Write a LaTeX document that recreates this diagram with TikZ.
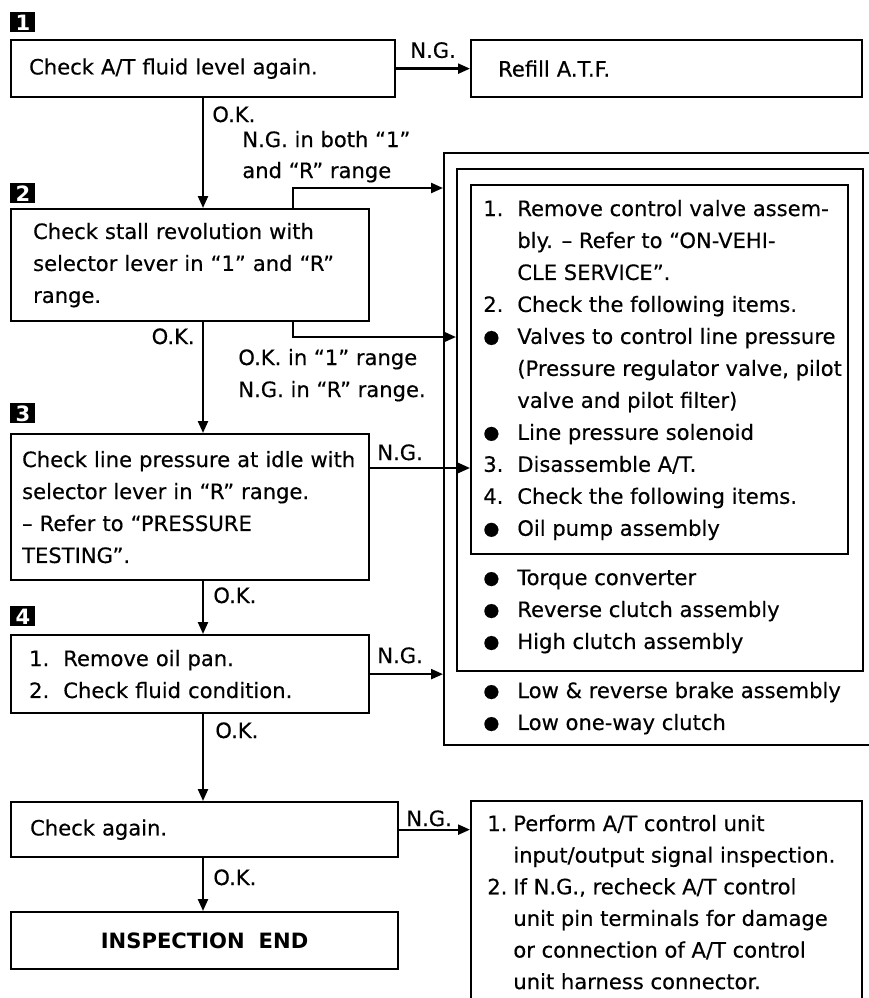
\documentclass[tikz,border=0pt]{standalone}
\usepackage{fontspec}
\setmainfont{DejaVu Sans}[UprightFeatures={FakeBold=0.4}]
\usetikzlibrary{arrows.meta}

\newcommand{\blt}{\raisebox{0.1ex}{\fontsize{10.5}{10.5}\selectfont ●}}

\tikzset{
  box/.style={draw, line width=1.3pt, anchor=north west, inner xsep=0.36cm, inner ysep=0pt, align=left},
  frame/.style={draw, line width=1.3pt, anchor=north west, inner sep=0pt},
  tag/.style={fill=black, text=white, anchor=north west, inner sep=0pt,
    minimum width=0.5cm, minimum height=0.4cm, font=\fontsize{12}{12}\selectfont\bfseries},
  arr/.style={line width=1.3pt, -{Triangle[length=0.24cm, width=0.2cm]}},
  lbl/.style={anchor=base west, inner sep=0pt},
}

\begin{document}
\begin{tikzpicture}[x=0.02cm, y=-0.02cm, font=\fontsize{12}{18.2}\selectfont]
  \useasboundingbox (0,0) rectangle (869,998);
  \clip (0,0) rectangle (869,998);
  % step tags
  \node[tag] (n1) at (10,12) {1};
  \node[tag] (n2) at (10,183) {2};
  \node[tag] (n3) at (10,403) {3};
  \node[tag] (n4) at (10,606) {4};
  % left column
  \node[box, minimum width=7.68cm, minimum height=1.14cm, text width=6.96cm] (b1) at (10,39)
    {Check A/T fluid level again.};
  \node[box, minimum width=7.82cm, minimum height=1.14cm, inner xsep=0.54cm, text width=6.74cm] (refill) at (470,39)
    {Refill A.T.F.};
  \node[box, minimum width=7.16cm, minimum height=2.24cm, inner xsep=0.44cm, text width=6.28cm] (b2) at (10,208)
    {Check stall revolution with\\ selector lever in ``1'' and ``R''\\ range.};
  \node[box, minimum width=7.16cm, minimum height=2.92cm, inner xsep=0.22cm, text width=6.72cm] (b3) at (10,433)
    {Check line pressure at idle with\\ selector lever in ``R'' range.\\ -- Refer to ``PRESSURE\\ TESTING''.};
  \node[box, minimum width=7.16cm, minimum height=1.56cm, text width=6.44cm] (b4) at (10,634)
    {1.\ \ Remove oil pan.\\ 2.\ \ Check fluid condition.};
  \node[box, minimum width=7.74cm, minimum height=1.10cm, inner xsep=0.38cm, text width=6.98cm] (b5) at (10,801)
    {Check again.};
  \node[box, minimum width=7.74cm, minimum height=1.14cm, inner xsep=0.38cm, text width=6.98cm, align=center,
    font=\fontsize{12}{18.2}\selectfont\bfseries] (b6) at (10,911) {INSPECTION\ \ END};
  % nested repair boxes
  \node[frame, minimum width=8.8cm, minimum height=11.84cm] (outer) at (443,152) {};
  \node[frame, minimum width=8.12cm, minimum height=10.04cm] (mid) at (456,168) {};
  \node[frame, minimum width=7.54cm, minimum height=7.38cm] (inn) at (470,184) {};
  \node[lbl] (l1) at (483,216) {\begin{tabular}[t]{@{}p{0.68cm}@{}l@{}}
    1. & Remove control valve assem-\\
       & bly. -- Refer to ``ON-VEHI-\\
       & CLE SERVICE''.\\
    2. & Check the following items.\\
    \blt & Valves to control line pressure\\
       & (Pressure regulator valve, pilot\\
       & valve and pilot filter)\\
    \blt & Line pressure solenoid\\
    3. & Disassemble A/T.\\
    4. & Check the following items.\\
    \blt & Oil pump assembly
  \end{tabular}};
  \node[lbl] (l2) at (483,585) {\begin{tabular}[t]{@{}p{0.68cm}@{}l@{}}
    \blt & Torque converter\\
    \blt & Reverse clutch assembly\\
    \blt & High clutch assembly
  \end{tabular}};
  \node[lbl] (l3) at (483,698) {\begin{tabular}[t]{@{}p{0.68cm}@{}l@{}}
    \blt & Low \& reverse brake assembly\\
    \blt & Low one-way clutch
  \end{tabular}};
  % control unit box
  \node[frame, minimum width=7.82cm, minimum height=4.3cm] (pbox) at (470,800) {};
  \node[lbl] (plist) at (487,831) {\fontsize{12}{18}\selectfont\begin{tabular}[t]{@{}p{0.52cm}@{}l@{}}
    1. & Perform A/T control unit\\
       & input/output signal inspection.\\
    2. & If N.G., recheck A/T control\\
       & unit pin terminals for damage\\
       & or connection of A/T control\\
       & unit harness connector.
  \end{tabular}};
  % spine
  \coordinate (sp) at (203,0);
  \coordinate (s2) at (293,0);
  \draw[arr] (b1.south -| sp) -- (b2.north -| sp);
  \draw[arr] (b2.south -| sp) -- (b3.north -| sp);
  \draw[arr] (b3.south -| sp) -- (b4.north -| sp);
  \draw[arr] (b4.south -| sp) -- (b5.north -| sp);
  \draw[arr] (b5.south -| sp) -- (b6.north -| sp);
  % N.G. branches
  \draw[arr] (b1.east) -- (refill.west) node[midway, above=2pt] (ng1) {N.G.};
  \draw[arr] (b2.north -| s2) |- (outer.west |- 0,188);
  \draw[arr] (b2.south -| s2) |- (mid.west |- 0,337);
  \draw[arr] (b3.east |- 0,468) -- (inn.west |- 0,468);
  \draw[arr] (b4.east) -- (outer.west |- b4.east);
  \draw[arr] (b5.east) -- (pbox.west |- b5.east);
  % labels
  \node[lbl] (ok1) at (212,122) {O.K.};
  \node[lbl] (ng2a) at (242,147) {N.G. in both ``1''};
  \node[lbl] (ng2b) at (242,178) {and ``R'' range};
  \node[lbl, anchor=base east] (ok2) at (195,344) {O.K.};
  \node[lbl] (ok2a) at (238,365) {O.K. in ``1'' range};
  \node[lbl] (ng2c) at (238,397) {N.G. in ``R'' range.};
  \node[lbl] (ng3) at (377,460) {N.G.};
  \node[lbl] (ok3) at (213,603) {O.K.};
  \node[lbl] (ng4) at (377,663) {N.G.};
  \node[lbl] (ok4) at (215,738) {O.K.};
  \node[lbl] (ng5) at (406,826) {N.G.};
  \node[lbl] (ok5) at (213,885) {O.K.};
\end{tikzpicture}
\end{document}
